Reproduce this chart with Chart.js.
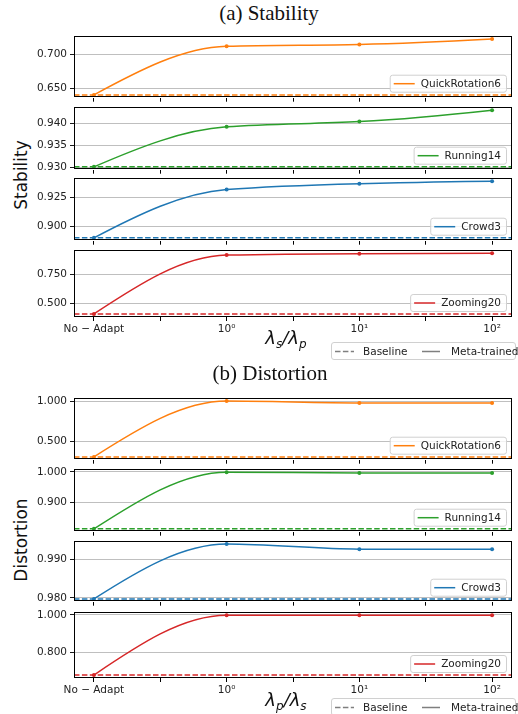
<!DOCTYPE html>
<html>
<head>
<meta charset="utf-8">
<script src="https://cdn.jsdelivr.net/npm/chart.js@4.4.0/dist/chart.umd.min.js"></script>
<style>
body { margin: 0; background: #fff; }
#wrap { position: relative; width: 518px; height: 714px; overflow: hidden; font-family: "DejaVu Sans"; color: #111; }
#wrap canvas { position: absolute; left: 0; }
.title { position: absolute; font-family: "Liberation Serif"; font-size: 21px; transform: translate(-50%, -50%); white-space: nowrap; }
.ylab { position: absolute; font-size: 17px; transform: translate(-50%, -50%) rotate(-90deg); white-space: nowrap; }
.xlab { position: absolute; font-size: 18px; font-style: italic; transform: translate(-50%, -50%); white-space: nowrap; }
.xlab sub { font-size: 12px; vertical-align: -4px; }
.legbox { position: absolute; border: 1px solid #d0d0d0; border-radius: 3px; background: #fff; font-size: 10.5px; color: #222; }
.legbox span { position: absolute; top: 50%; transform: translateY(-50%); white-space: nowrap; }
.legbox svg { position: absolute; top: 0; }
</style>
</head>
<body>
<div id="wrap">
  <div class="title" style="left:269px; top:13px;">(a) Stability</div>
  <div class="ylab" style="left:21px; top:175px;">Stability</div>
  <canvas id="a0" width="518" height="80"></canvas>
  <canvas id="a1" width="518" height="80"></canvas>
  <canvas id="a2" width="518" height="80"></canvas>
  <canvas id="a3" width="518" height="80"></canvas>
  <div class="xlab" style="left:286px; top:339px;">λ<sub>s</sub>/λ<sub>p</sub></div>

  <div class="title" style="left:270px; top:373px;">(b) Distortion</div>
  <div class="ylab" style="left:21px; top:540px;">Distortion</div>
  <canvas id="b0" width="518" height="80"></canvas>
  <canvas id="b1" width="518" height="80"></canvas>
  <canvas id="b2" width="518" height="80"></canvas>
  <canvas id="b3" width="518" height="80"></canvas>
  <div class="xlab" style="left:286px; top:701px;">λ<sub>p</sub>/λ<sub>s</sub></div>
</div>
<script>
// x positions: No-Adapt sits one decade left of 10^0
var xPos = [-1, 0, 1, 2];
var xTickPos = [-1, -0.5, 0, 0.5, 1, 1.5, 2];
var xTickLabels = {"-1": "No \u2212 Adapt", "0": "10\u2070", "1": "10\u00b9", "2": "10\u00b2"};
var xMin = -1.15, xMax = 2.15;

var seqNames = ["QuickRotation6", "Running14", "Crowd3", "Zooming20"];
var seqColors = ["#ff7f0e", "#2ca02c", "#1f77b4", "#d62728"];

// (a) stability
var stabQuickRotation6 = [0.640, 0.7126, 0.7153, 0.7234];
var stabRunning14      = [0.9301, 0.9392, 0.9404, 0.9430];
var stabCrowd3         = [0.8897, 0.9323, 0.9374, 0.9396];
var stabZooming20      = [0.411, 0.913, 0.925, 0.928];
var stabBaseline       = [0.640, 0.9301, 0.8897, 0.411];
var stabYTicks = [[0.650, 0.700], [0.930, 0.935, 0.940], [0.900, 0.925], [0.500, 0.750]];

// (b) distortion
var distQuickRotation6 = [0.302, 1.000, 0.977, 0.977];
var distRunning14      = [0.811, 0.999, 0.996, 0.996];
var distCrowd3         = [0.9797, 0.99405, 0.99272, 0.99268];
var distZooming20      = [0.677, 0.998, 0.998, 0.998];
var distBaseline       = [0.302, 0.811, 0.9797, 0.677];
var distYTicks = [[0.500, 1.000], [0.900, 1.000], [0.980, 0.990], [0.800, 1.000]];

// panel frames in page pixels [top, bottom]
var framesA = [[35, 103], [106, 175], [177, 246], [249, 317]];
var framesB = [[397, 465], [468, 537], [540, 607], [611, 678]];

// pchip style slopes (same as the smoothing in the original figure)
function pchipSlopes(xs, ys) {
    var n = xs.length, h = [], d = [], m = [];
    for (var k = 0; k < n - 1; k++) {
        h[k] = xs[k + 1] - xs[k];
        d[k] = (ys[k + 1] - ys[k]) / h[k];
    }
    for (k = 1; k < n - 1; k++) {
        if (d[k - 1] == 0 || d[k] == 0 || Math.sign(d[k - 1]) != Math.sign(d[k])) {
            m[k] = 0;
        } else {
            var w1 = 2 * h[k] + h[k - 1], w2 = h[k] + 2 * h[k - 1];
            m[k] = (w1 + w2) / (w1 / d[k - 1] + w2 / d[k]);
        }
    }
    function edge(h0, h1, d0, d1) {
        var s = ((2 * h0 + h1) * d0 - h0 * d1) / (h0 + h1);
        if (Math.sign(s) != Math.sign(d0)) s = 0;
        else if (Math.sign(d0) != Math.sign(d1) && Math.abs(s) > Math.abs(3 * d0)) s = 3 * d0;
        return s;
    }
    m[0] = edge(h[0], h[1], d[0], d[1]);
    m[n - 1] = edge(h[n - 2], h[n - 3], d[n - 2], d[n - 3]);
    return m;
}

var pchipCurves = {
    id: "pchipCurves",
    beforeDatasetDraw: function(chart, args) {
        if (args.index !== 0) return;
        var meta = args.meta, pts = meta.data;
        meta.dataset.updateControlPoints(chart.chartArea, "x");
        var xs = pts.map(function(p) { return p.x; });
        var ys = pts.map(function(p) { return p.y; });
        var m = pchipSlopes(xs, ys);
        for (var k = 0; k < pts.length; k++) {
            if (k > 0) {
                var hb = (xs[k] - xs[k - 1]) / 3;
                pts[k].cp1x = xs[k] - hb;
                pts[k].cp1y = ys[k] - m[k] * hb;
            }
            if (k < pts.length - 1) {
                var ha = (xs[k + 1] - xs[k]) / 3;
                pts[k].cp2x = xs[k] + ha;
                pts[k].cp2y = ys[k] + m[k] * ha;
            }
        }
    }
};

var panelDecor = {
    id: "panelDecor",
    afterDraw: function(chart) {
        var ctx = chart.ctx, a = chart.chartArea;
        ctx.save();
        ctx.strokeStyle = "#000";
        ctx.lineWidth = 1;
        ctx.strokeRect(Math.round(a.left) + 0.5, Math.round(a.top) + 0.5,
            Math.round(a.right - a.left) - 1, Math.round(a.bottom - a.top) - 1);

        var ds = chart.data.datasets[0];
        ctx.font = '10.5px "DejaVu Sans"';
        var tw = ctx.measureText(ds.label).width;
        var w = tw + 36, h = 17;
        var x = a.right - 6 - w, y = a.bottom - 6 - h;
        ctx.beginPath();
        ctx.roundRect(x + 0.5, y + 0.5, w, h, 2.5);
        ctx.fillStyle = "rgba(255,255,255,0.8)";
        ctx.fill();
        ctx.strokeStyle = "#d0d0d0";
        ctx.lineWidth = 1;
        ctx.stroke();
        ctx.strokeStyle = ds.borderColor;
        ctx.lineWidth = 1.5;
        ctx.beginPath();
        ctx.moveTo(x + 4, y + h / 2 + 0.5);
        ctx.lineTo(x + 25, y + h / 2 + 0.5);
        ctx.stroke();
        ctx.fillStyle = "#222";
        ctx.textBaseline = "middle";
        ctx.fillText(ds.label, x + 31, y + h / 2 + 1);
        ctx.restore();
    }
};

function makePanel(id, frame, name, color, values, baseline, yTicks, bottom) {
    var padTop = 8;
    var xAxisH = bottom ? 22 : 4;
    var cv = document.getElementById(id);
    cv.style.top = (frame[0] - padTop) + "px";
    cv.height = frame[1] - frame[0] + padTop + xAxisH;

    var all = values.concat([baseline]);
    var lo = Math.min.apply(null, all), hi = Math.max.apply(null, all);
    var m = (hi - lo) * 0.05;

    new Chart(cv.getContext("2d"), {
        type: "line",
        data: {
            datasets: [
                {
                    label: name,
                    data: xPos.map(function(x, i) { return {x: x, y: values[i]}; }),
                    borderColor: color,
                    backgroundColor: color,
                    borderWidth: 1.5,
                    pointRadius: 2,
                    pointBorderWidth: 0,
                    pointBackgroundColor: color,
                    cubicInterpolationMode: "monotone"
                },
                {
                    label: "Baseline",
                    data: [{x: xMin, y: baseline}, {x: xMax, y: baseline}],
                    borderColor: color,
                    borderWidth: 1.5,
                    borderDash: [5.5, 2.4],
                    pointRadius: 0
                }
            ]
        },
        options: {
            responsive: false,
            animation: false,
            events: [],
            layout: {padding: {top: padTop, right: 6, left: 0, bottom: 0}},
            plugins: {legend: {display: false}, tooltip: {enabled: false}},
            scales: {
                x: {
                    type: "linear",
                    min: xMin,
                    max: xMax,
                    afterBuildTicks: function(s) { s.ticks = xTickPos.map(function(v) { return {value: v}; }); },
                    afterFit: function(s) { s.height = xAxisH; },
                    border: {display: false},
                    grid: {drawOnChartArea: false, drawTicks: true, tickLength: 4, tickColor: "#000", color: "#000"},
                    ticks: {
                        display: bottom,
                        autoSkip: false,
                        maxRotation: 0,
                        padding: 2,
                        color: "#222",
                        font: {family: "DejaVu Sans", size: 10.5},
                        callback: function(v) { return xTickLabels[String(v)] || ""; }
                    }
                },
                y: {
                    min: lo - m,
                    max: hi + m,
                    afterBuildTicks: function(s) { s.ticks = yTicks.map(function(v) { return {value: v}; }); },
                    afterFit: function(s) { s.width = 74; },
                    border: {display: false},
                    grid: {color: "#b8b8b8", lineWidth: 0.9, drawTicks: true, tickLength: 4, tickColor: "#000"},
                    ticks: {
                        padding: 3,
                        color: "#222",
                        font: {family: "DejaVu Sans", size: 10.5},
                        callback: function(v) { return v.toFixed(3); }
                    }
                }
            }
        },
        plugins: [pchipCurves, panelDecor]
    });
}

var stabSeries = [stabQuickRotation6, stabRunning14, stabCrowd3, stabZooming20];
var distSeries = [distQuickRotation6, distRunning14, distCrowd3, distZooming20];
for (var i = 0; i < 4; i++) {
    makePanel("a" + i, framesA[i], seqNames[i], seqColors[i], stabSeries[i], stabBaseline[i], stabYTicks[i], i == 3);
    makePanel("b" + i, framesB[i], seqNames[i], seqColors[i], distSeries[i], distBaseline[i], distYTicks[i], i == 3);
}

// shared legends under each group
function addGroupLegend(top) {
    var box = document.createElement("div");
    box.className = "legbox";
    box.style.left = "331px";
    box.style.top = top + "px";
    box.style.width = "183px";
    box.style.height = "16px";
    box.innerHTML =
        '<svg width="183" height="16" style="left:0">' +
        '<line x1="3" y1="8.5" x2="22" y2="8.5" stroke="#7f7f7f" stroke-width="1.5" stroke-dasharray="5.5,2.4"/>' +
        '<line x1="90" y1="8.5" x2="108" y2="8.5" stroke="#7f7f7f" stroke-width="1.5"/>' +
        '</svg>' +
        '<span style="left:31px">Baseline</span>' +
        '<span style="left:119px">Meta-trained</span>';
    document.getElementById("wrap").appendChild(box);
}
addGroupLegend(342);
addGroupLegend(698);
</script>
</body>
</html>
